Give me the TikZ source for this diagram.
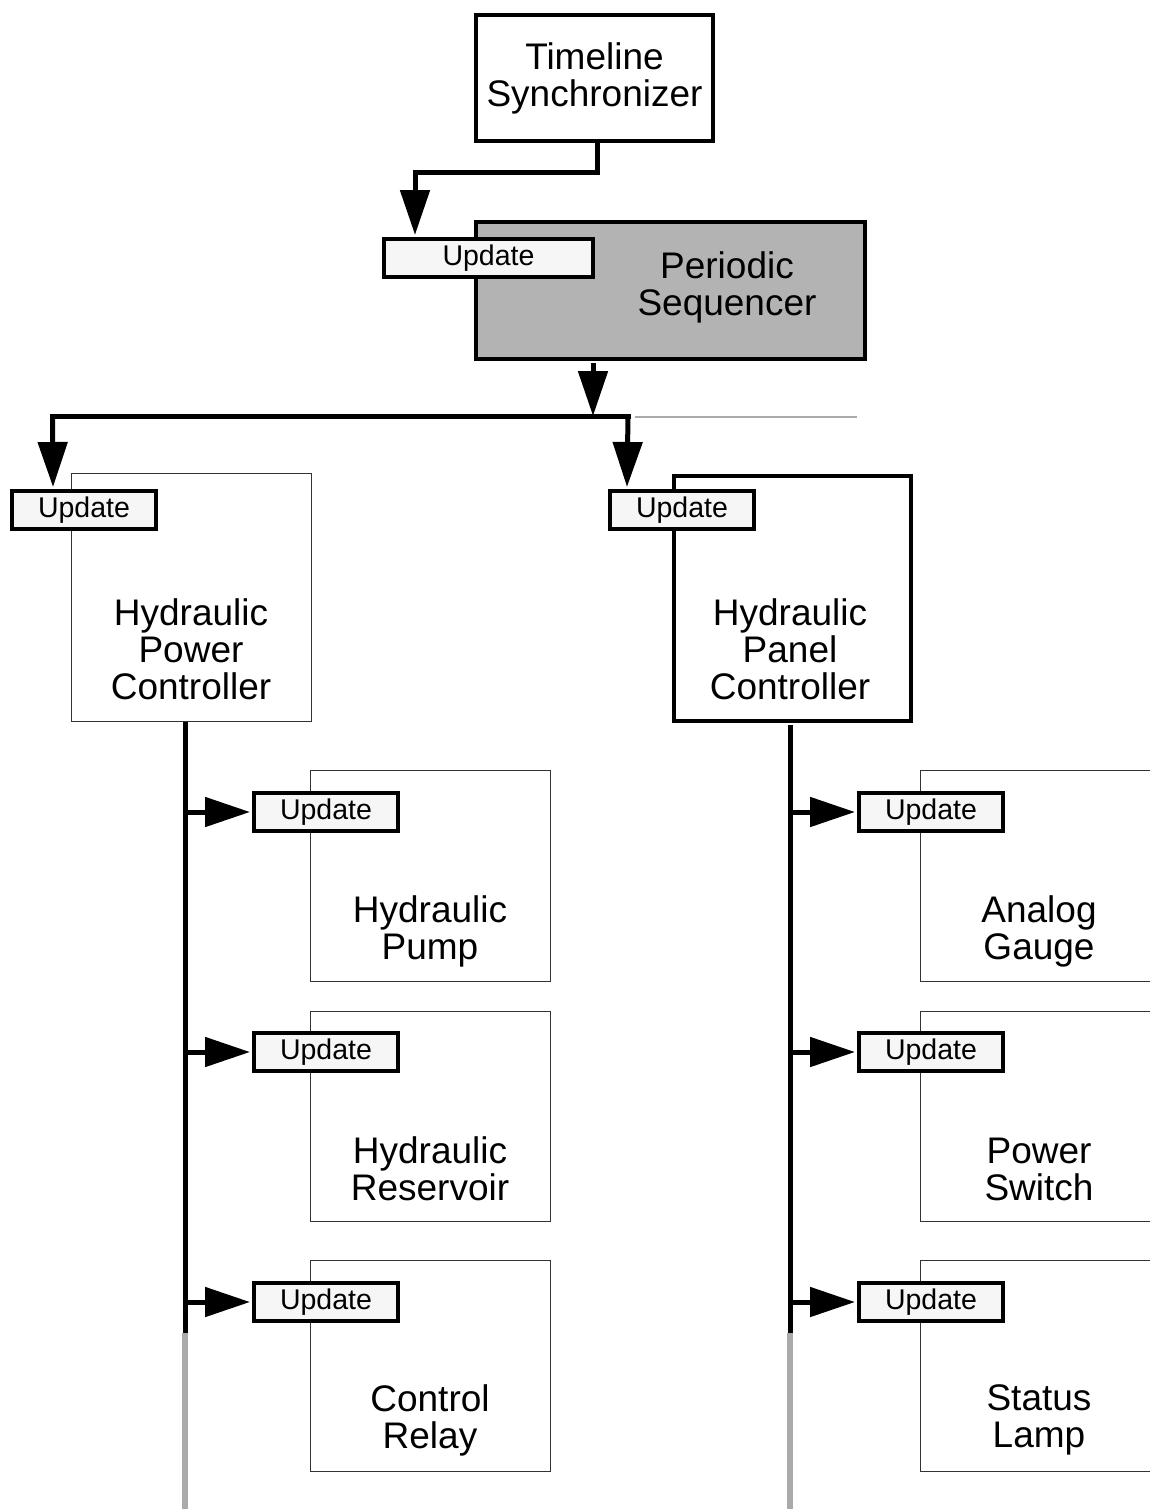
\documentclass[tikz,border=0pt]{standalone}
\usepackage{fontspec}
\setmainfont{Liberation Sans}
\usetikzlibrary{arrows.meta}
\definecolor{seqgray}{HTML}{B3B3B3}
\definecolor{updfill}{HTML}{F6F6F6}
\definecolor{busgray}{HTML}{AAAAAA}
\definecolor{thinline}{HTML}{333333}
\begin{document}
\begin{tikzpicture}[x=1pt,y=-1pt,
  big/.style={font=\fontsize{37}{37}\selectfont, align=center, inner sep=0pt},
  thickbox/.style={draw, line width=4pt, inner sep=0pt, anchor=north west},
  thinbox/.style={draw=thinline, line width=1.2pt, inner sep=0pt, anchor=north west, fill=white},
  updbox/.style={draw, line width=4pt, fill=updfill, inner sep=0pt, anchor=north west, minimum width=144pt, minimum height=38pt, font=\fontsize{28.5}{30}\selectfont},
  conn/.style={line width=5pt},
  arr/.style={line width=5pt, -{Triangle[length=45pt,width=29pt]}},
  tailline/.style={line width=6pt, draw=busgray}
]
\useasboundingbox (0,0) rectangle (1150,1509);
\clip (0,0) rectangle (1150,1509);
\fill[white] (0,0) rectangle (1150,1509);

% top boxes
\node[thickbox, minimum width=237pt, minimum height=126pt, big] (ts) at (474,13) {Timeline\\Synchronizer};
\node[thickbox, fill=seqgray, minimum width=389pt, minimum height=137pt] (ps) at (474,220) {};
\node[big] (psl) at (727,287) {Periodic\\Sequencer};
\node[updbox, minimum width=209pt] (u0) at (382,237) {Update};

% controllers
\node[thinbox, minimum width=240pt, minimum height=248pt] (hpc) at (70.5,472.5) {};
\node[big] (hpcl) at (191,649.5) {Hydraulic\\Power\\Controller};
\node[updbox] (u1) at (10,489) {Update};

\node[thickbox, fill=white, minimum width=237pt, minimum height=245pt] (hpn) at (672,474) {};
\node[big] (hpnl) at (790,649.5) {Hydraulic\\Panel\\Controller};
\node[updbox] (u2) at (608,489) {Update};

% left children
\node[thinbox, minimum width=240pt, minimum height=211pt] (c1) at (309.5,769.5) {};
\node[big] (c1l) at (430,931.5) {Hydraulic\\Pump};
\node[updbox] (u3) at (252,791) {Update};

\node[thinbox, minimum width=240pt, minimum height=210pt] (c2) at (309.5,1010.5) {};
\node[big] (c2l) at (430,1168.5) {Hydraulic\\Reservoir};
\node[updbox] (u4) at (252,1031) {Update};

\node[thinbox, minimum width=240pt, minimum height=211pt] (c3) at (309.5,1259.5) {};
\node[big] (c3l) at (430,1420) {Control\\Relay};
\node[updbox] (u5) at (252,1281) {Update};

% right children
\node[thinbox, minimum width=260pt, minimum height=211pt] (d1) at (919.5,769.5) {};
\node[big] (d1l) at (1039,931) {Analog\\Gauge};
\node[updbox] (u6) at (857,791) {Update};

\node[thinbox, minimum width=260pt, minimum height=210pt] (d2) at (919.5,1010.5) {};
\node[big] (d2l) at (1039,1169) {Power\\Switch};
\node[updbox] (u7) at (857,1031) {Update};

\node[thinbox, minimum width=260pt, minimum height=211pt] (d3) at (919.5,1259.5) {};
\node[big] (d3l) at (1039,1420) {Status\\Lamp};
\node[updbox] (u8) at (857,1281) {Update};

% connectors
\draw[arr] ([xshift=3pt]ts.south) |- ([xshift=33pt,yshift=65pt]u0.north west) -- ([xshift=33pt,yshift=2pt]u0.north west);

\coordinate (busL) at (52.5,416);
\coordinate (busR) at (628,416);
\draw[conn, line cap=rect] (busL) -- (busR);
\draw[busgray, line width=1.5pt] (635,417) -- (857,417);
\draw[arr] ([xshift=119pt,yshift=-2pt]ps.south west) -- ([xshift=119pt]ps.south west |- busL);
\draw[arr] (busL) -- ([xshift=43pt,yshift=2pt]u1.north west);
\draw[arr] (busR) -- ([xshift=19pt,yshift=2pt]u2.north west);

% left vertical bus
\coordinate (lt) at (185,1333);
\coordinate (lb) at (185,1512);
\draw[conn] (hpc.south -| lt) -- (lt);
\draw[tailline] (lt) -- (lb);
\draw[arr] (u3.west -| lt) -- ([xshift=-2pt]u3.west);
\draw[arr] (u4.west -| lt) -- ([xshift=-2pt]u4.west);
\draw[arr] (u5.west -| lt) -- ([xshift=-2pt]u5.west);

% right vertical bus
\coordinate (rt) at (790,1333);
\coordinate (rb) at (790,1512);
\draw[conn] ([yshift=-2pt]hpn.south -| rt) -- (rt);
\draw[tailline] (rt) -- (rb);
\draw[arr] (u6.west -| rt) -- ([xshift=-2pt]u6.west);
\draw[arr] (u7.west -| rt) -- ([xshift=-2pt]u7.west);
\draw[arr] (u8.west -| rt) -- ([xshift=-2pt]u8.west);
\end{tikzpicture}
\end{document}
